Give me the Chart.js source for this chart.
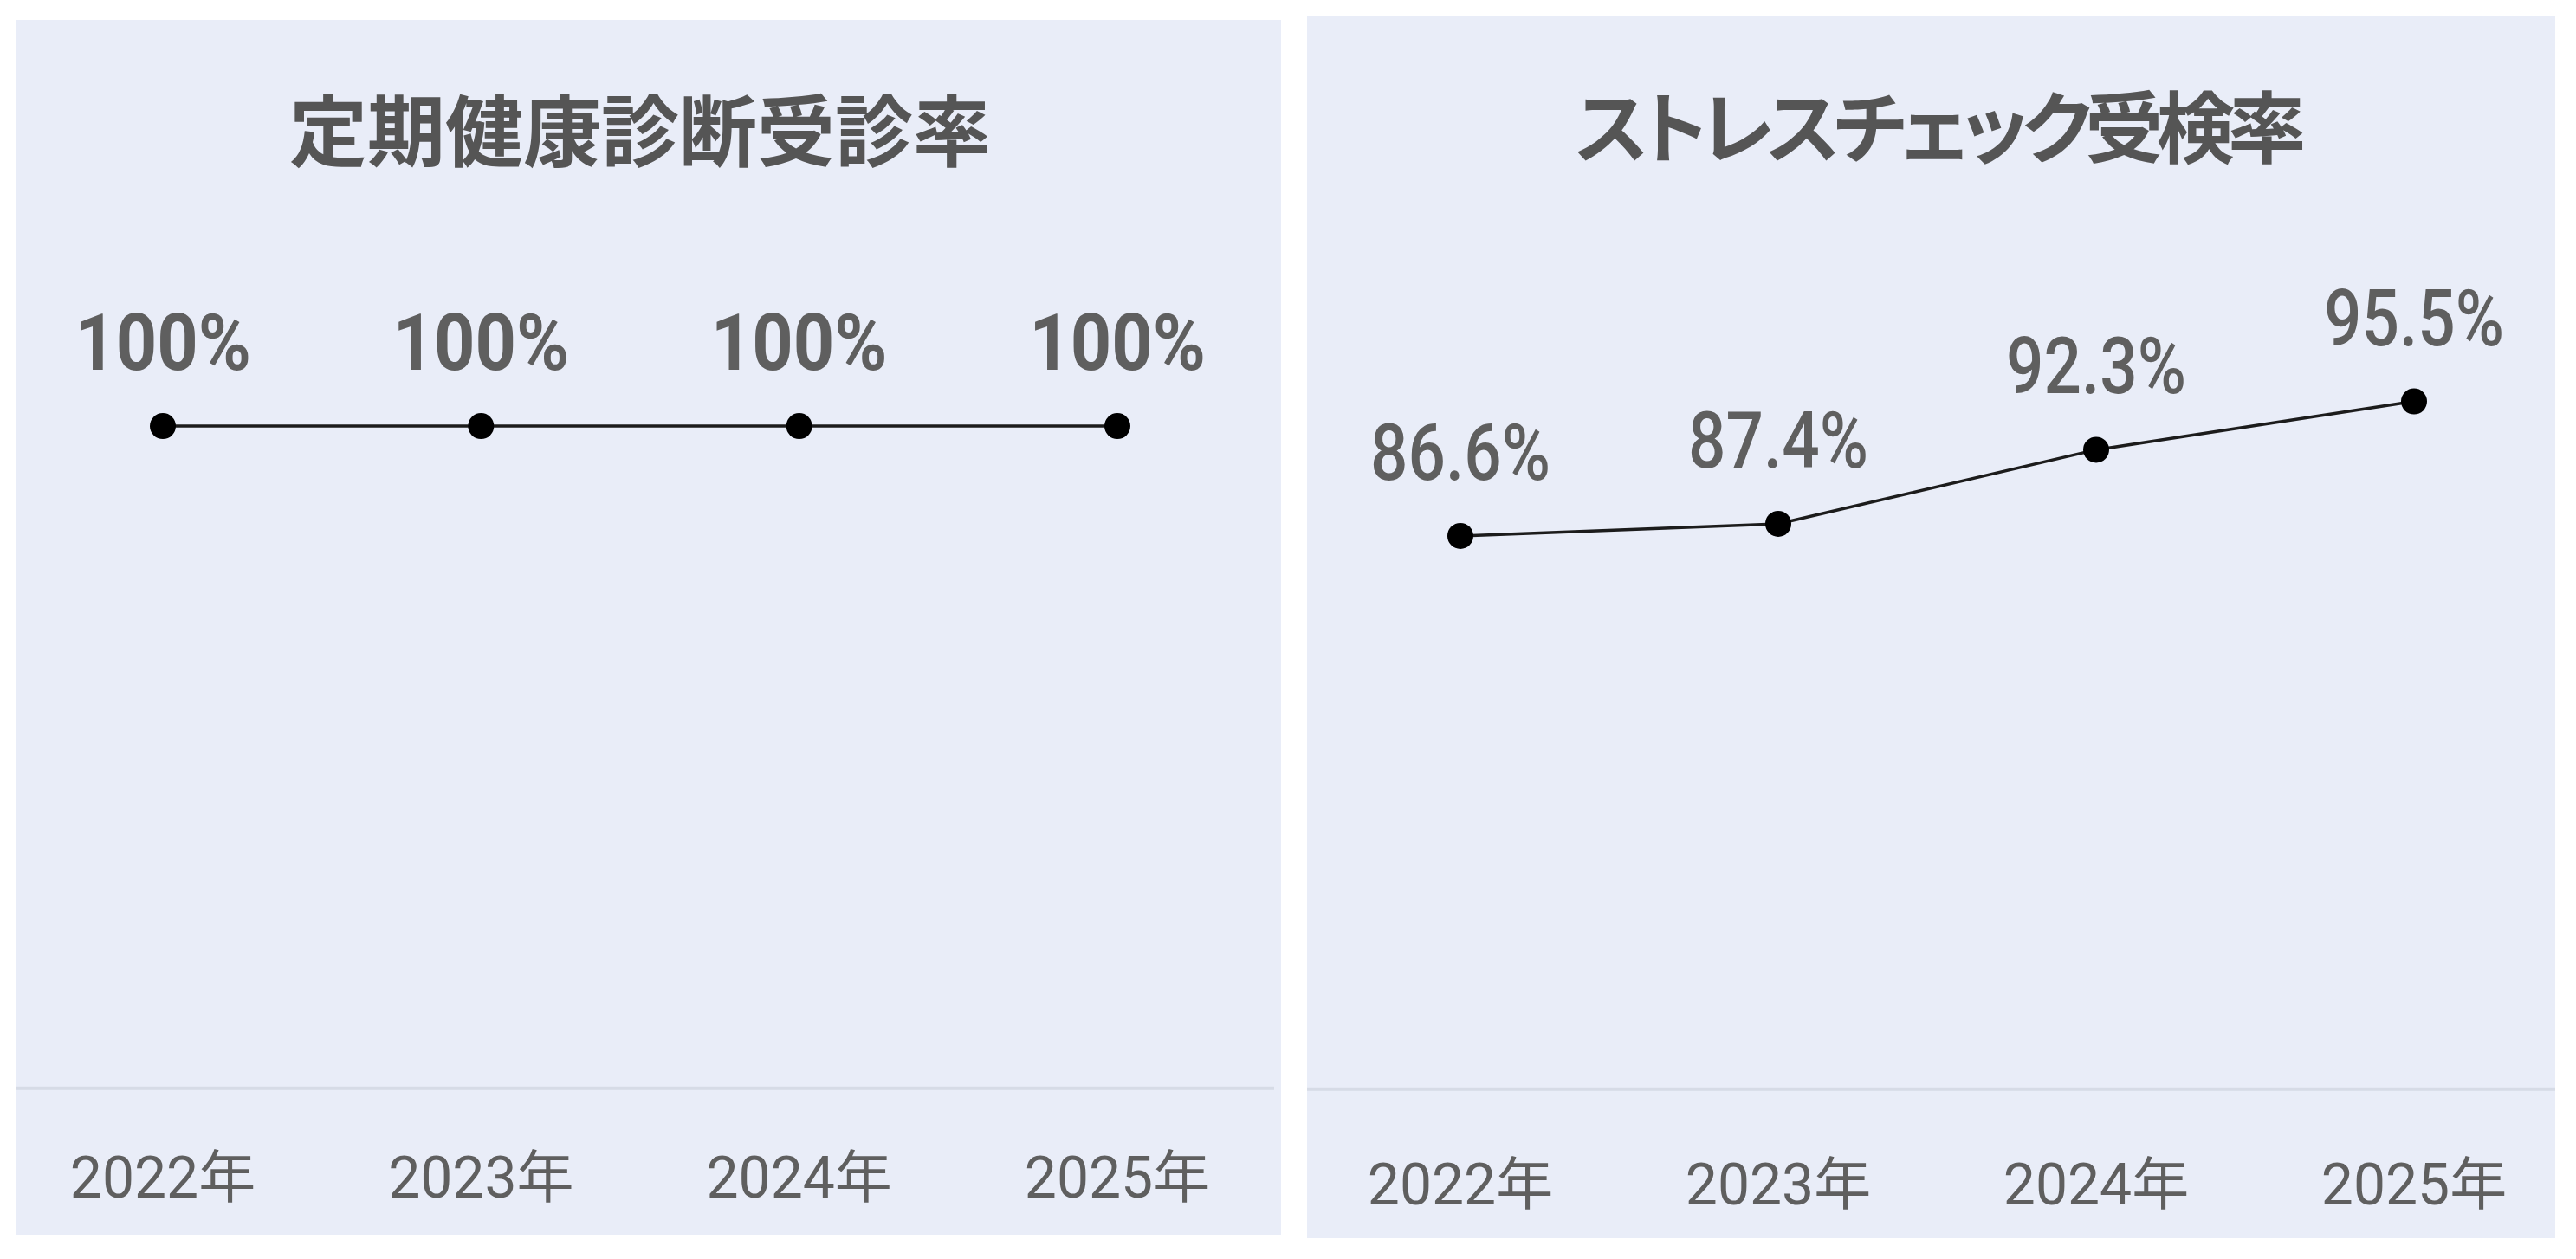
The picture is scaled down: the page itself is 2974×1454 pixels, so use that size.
<!DOCTYPE html>
<html>
<head>
<meta charset="utf-8">
<script src="https://cdn.jsdelivr.net/npm/chart.js@4.4.1/dist/chart.umd.min.js"></script>
<style>
  html, body { margin:0; padding:0; background:#ffffff; width:2974px; height:1454px; overflow:hidden; }
  .panel { position:absolute; background:#e9edf8; }
  .panel canvas { position:absolute; left:0; top:0; }
  .title {
    position:absolute; top:78px; left:0;
    font-family:"Noto Sans CJK JP", sans-serif; font-weight:700; font-size:90px;
    line-height:1; color:#555555; white-space:nowrap;
    font-feature-settings:"palt"; transform:translateX(-50%);
  }
  #t2 { letter-spacing:-7.5px; }
</style>
</head>
<body>
<div class="panel" id="p1" style="left:19px; top:23px; width:1460px; height:1403px;">
  <canvas id="c1"></canvas>
  <div class="title" id="t1"></div>
</div>
<div class="panel" id="p2" style="left:1509px; top:19px; width:1441px; height:1411px;">
  <canvas id="c2"></canvas>
  <div class="title" id="t2"></div>
</div>
<script>
// ---- data ----
const categories = ['2022年', '2023年', '2024年', '2025年'];
const checkupRate = [100, 100, 100, 100];
const stressCheckRate = [86.6, 87.4, 92.3, 95.5];
const checkupTitle = '定期健康診断受診率';
const stressTitle = 'ストレスチェック受検率';

const fmtPct = v => (Number.isInteger(v) ? String(v) : v.toFixed(1)) + '%';

// baseline across the panel at the bottom of the plot area
const baselinePlugin = {
  id: 'baseline',
  beforeDatasetsDraw(chart, args, opts) {
    const ctx = chart.ctx;
    const y = chart.chartArea.bottom;
    ctx.save();
    ctx.fillStyle = opts.color;
    ctx.fillRect(opts.start, y - opts.width / 2, chart.width - opts.start - opts.endGap, opts.width);
    ctx.restore();
  }
};

// value labels above each point (slightly condensed text)
const valueLabelPlugin = {
  id: 'valueLabels',
  afterDatasetsDraw(chart, args, opts) {
    const ctx = chart.ctx;
    const meta = chart.getDatasetMeta(0);
    const data = chart.data.datasets[0].data;
    ctx.save();
    ctx.font = opts.font;
    ctx.fillStyle = opts.color;
    ctx.textAlign = 'center';
    ctx.textBaseline = 'alphabetic';
    meta.data.forEach((pt, i) => {
      ctx.save();
      ctx.translate(pt.x, pt.y - opts.offset);
      ctx.scale(opts.scaleX, 1);
      ctx.fillText(fmtPct(data[i]), 0, 0);
      ctx.restore();
    });
    ctx.restore();
  }
};

function makeChart(canvasId, panelId, titleId, titleText, values, yMin, yMax, pad, tickLen, labelFont, labelScaleX, lineEndGap) {
  const panel = document.getElementById(panelId);
  const canvas = document.getElementById(canvasId);
  canvas.width = panel.clientWidth;
  canvas.height = panel.clientHeight;
  const chart = new Chart(canvas, {
    type: 'line',
    data: {
      labels: categories,
      datasets: [{
        label: titleText,
        data: values,
        borderColor: '#1c1c1c',
        borderWidth: 3.5,
        pointRadius: 15,
        pointHoverRadius: 15,
        pointBackgroundColor: '#000000',
        pointBorderWidth: 0,
        tension: 0,
        fill: false,
        clip: false
      }]
    },
    options: {
      responsive: false,
      animation: false,
      devicePixelRatio: 1,
      layout: { padding: pad },
      plugins: {
        legend: { display: false },
        tooltip: { enabled: false },
        title: { display: false },
        baseline: { color: '#d6dbe6', width: 4, start: 0, endGap: lineEndGap },
        valueLabels: { font: labelFont, color: '#5f5f5f', offset: 65, scaleX: labelScaleX }
      },
      scales: {
        x: {
          offset: false,
          grid: { display: false, drawTicks: true, tickLength: tickLen },
          border: { display: false },
          ticks: {
            padding: 0,
            color: '#5f5f5f',
            font: { family: "Roboto, 'Noto Sans CJK JP', sans-serif", size: 66 }
          }
        },
        y: { display: false, min: yMin, max: yMax }
      }
    },
    plugins: [baselinePlugin, valueLabelPlugin]
  });
  const t = document.getElementById(titleId);
  t.textContent = titleText;
  t.style.left = ((chart.chartArea.left + chart.chartArea.right) / 2) + 'px';
  return chart;
}

makeChart('c1', 'p1', 't1', checkupTitle, checkupRate, 0, 114,
  { left: 169, right: 189, top: 362, bottom: 20 }, 70,
  "700 90px Roboto, 'Noto Sans CJK JP', sans-serif", 0.92, 8);
makeChart('c2', 'p2', 't2', stressTitle, stressCheckRate, 50, 100,
  { left: 177, right: 163, top: 366, bottom: 16 }, 77,
  "500 90px Roboto, 'Noto Sans CJK JP', sans-serif", 0.85, 0);
</script>
</body>
</html>
